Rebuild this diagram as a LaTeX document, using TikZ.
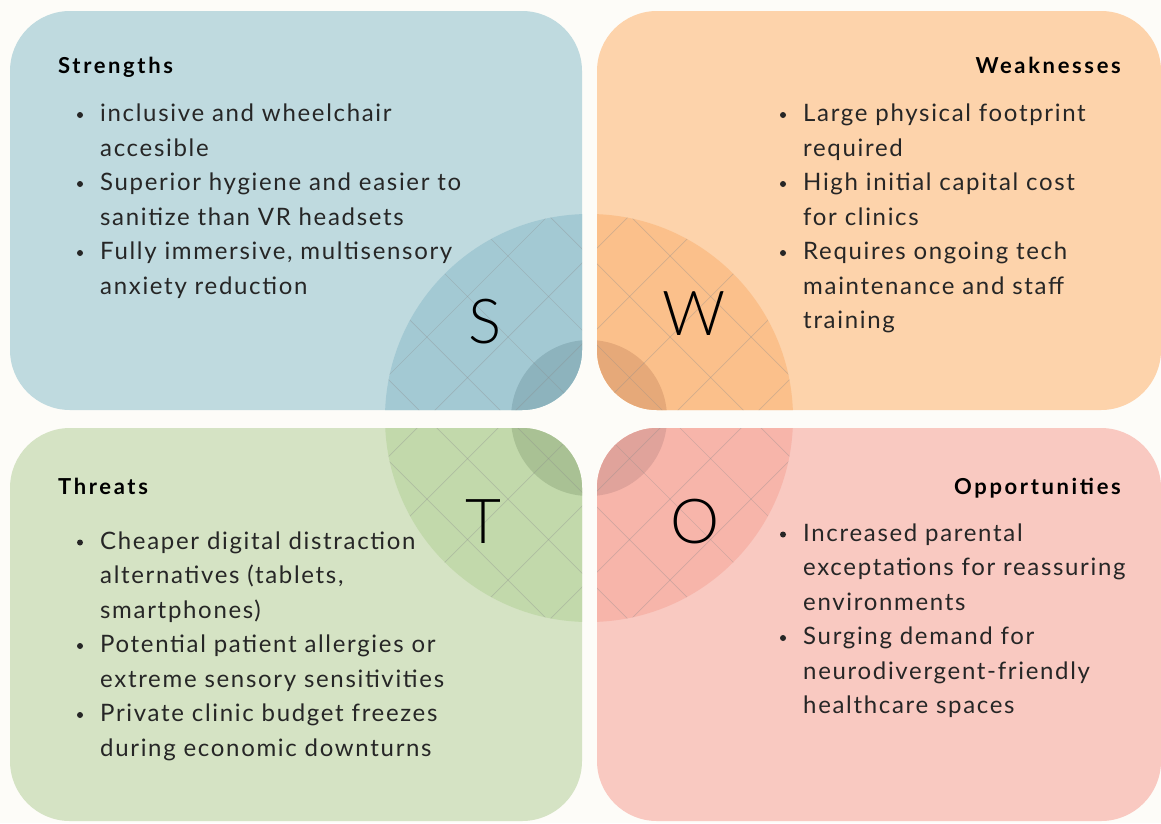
\documentclass[tikz,border=0pt]{standalone}
\usepackage{fontspec}
\setmainfont{Lato}
\newfontfamily\swotfont{Lato Light}
\usetikzlibrary{positioning}

\definecolor{paper}{HTML}{FDFCF8}
\definecolor{ink}{HTML}{262626}
\definecolor{sbox}{HTML}{BFDADF}
\definecolor{squad}{HTML}{A3C9D3}
\definecolor{sinner}{HTML}{8DB3BD}
\definecolor{wbox}{HTML}{FDD3AB}
\definecolor{wquad}{HTML}{FBC08B}
\definecolor{winner}{HTML}{E6A979}
\definecolor{tbox}{HTML}{D5E3C4}
\definecolor{tquad}{HTML}{C2D9AB}
\definecolor{tinner}{HTML}{A9C194}
\definecolor{obox}{HTML}{F9C9C1}
\definecolor{oquad}{HTML}{F7B5AA}
\definecolor{oinner}{HTML}{E0A39B}

\begin{document}
\begin{tikzpicture}[x=1pt,y=-1pt,
  card/.style={rounded corners=60pt},
  hatch/.style={black!45, opacity=.35, line width=.7pt},
  head/.style={font=\fontsize{22}{26}\bfseries\addfontfeature{LetterSpace=12}\selectfont, inner sep=0pt},
  item/.style={font=\fontsize{24}{28}\addfontfeature{LetterSpace=7}\selectfont, text=ink, inner sep=0pt, anchor=base west},
  letter/.style={font=\swotfont\fontsize{62}{62}\selectfont, inner sep=0pt}]
\fill[paper] (0,0) rectangle (1161,823);
\useasboundingbox (0,0) rectangle (1161,823);

% four cards with the quarter discs
\foreach \x/\y/\X/\Y/\c in {10/11/582/410/s, 597/11/1161/410/w, 10/428/582/821/t, 597/428/1161/821/o} {
  \fill[\c box, card] (\x,\y) rectangle (\X,\Y);
  \begin{scope}
    \clip[card] (\x,\y) rectangle (\X,\Y);
    \fill[\c quad] (589,418) circle (204);
    \fill[\c inner] (589,418) circle (78);
    \clip (589,418) circle (204);
    \begin{scope}[shift={(589,418)}, rotate=45]
      \foreach \k in {-5,...,5} {
        \draw[hatch] (\k*57.28,-300) -- (\k*57.28,300);
        \draw[hatch] (-300,\k*57.28) -- (300,\k*57.28);
      }
    \end{scope}
  \end{scope}
}

% big letters
\node[letter] (S) at (485,322) {S};
\node[letter] (W) at (694,314) {W};
\node[letter] (T) at (483,522) {T};
\node[letter] (O) at (695,522) {O};

% headings
\node[head, anchor=base west] (shead) at (58,73) {Strengths};
\node[head, anchor=base east] (whead) at (1121,73) {Weaknesses};
\node[head, anchor=base west] (thead) at (58,494) {Threats};
\node[head, anchor=base east] (ohead) at (1121,494) {Opportunities};

% lists
\foreach \txt [count=\i] in {inclusive and wheelchair, accesible, Superior hygiene and easier to,
    sanitize than VR headsets, {Fully immersive, multisensory}, anxiety reduction}
  \node[item] (s\i) at (100,{87+34.5*\i}) {\txt};
\foreach \i in {1,3,5} \fill[ink] (s\i.base west) ++(-20,-6.5) circle (3);

\foreach \txt [count=\i] in {Large physical footprint, required, High initial capital cost,
    for clinics, Requires ongoing tech, maintenance and staff, training}
  \node[item] (w\i) at (803,{87+34.5*\i}) {\txt};
\foreach \i in {1,3,5} \fill[ink] (w\i.base west) ++(-20,-6.5) circle (3);

\foreach \txt [count=\i] in {Cheaper digital distraction, {alternatives (tablets,}, smartphones),
    Potential patient allergies or, extreme sensory sensitivities,
    Private clinic budget freezes, during economic downturns}
  \node[item] (t\i) at (100,{514.5+34.5*\i}) {\txt};
\foreach \i in {1,4,6} \fill[ink] (t\i.base west) ++(-20,-6.5) circle (3);

\foreach \txt [count=\i] in {Increased parental, exceptations for reassuring, environments,
    Surging demand for, neurodivergent-friendly, healthcare spaces}
  \node[item] (o\i) at (803,{506.5+34.5*\i}) {\txt};
\foreach \i in {1,4} \fill[ink] (o\i.base west) ++(-20,-6.5) circle (3);
\end{tikzpicture}
\end{document}
